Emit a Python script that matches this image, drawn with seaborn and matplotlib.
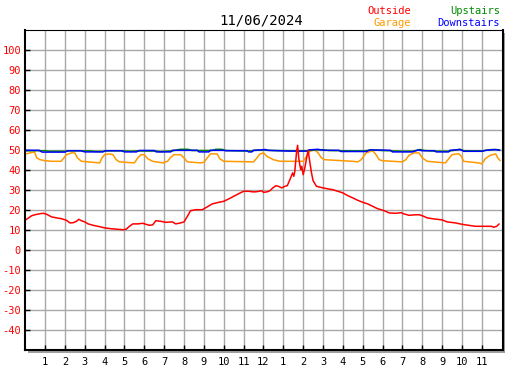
import numpy as np
import pandas as pd
import matplotlib
matplotlib.use("Agg")
import matplotlib.pyplot as plt
import seaborn as sns
from matplotlib.patches import Rectangle

# ---------------- data (hours since midnight, temperature) ----------------
outside_h = [0.03, 0.17, 0.33, 0.5, 0.75, 0.92, 1.08, 1.33, 1.58, 1.83, 2.08, 2.25, 2.42, 2.58,
             2.7, 2.83, 3.0, 3.17, 3.42, 3.75, 4.0, 4.33, 4.67, 4.92, 5.08, 5.25, 5.42, 5.67,
             5.92, 6.25, 6.42, 6.58, 6.83, 7.08, 7.42, 7.58, 7.83, 8.0, 8.17, 8.33, 8.58, 8.92,
             9.17, 9.42, 9.75, 10.0, 10.25, 10.5, 10.75, 11.0, 11.25, 11.5, 11.67, 11.92, 12.0,
             12.17, 12.33, 12.47, 12.63, 12.75, 12.92, 13.08, 13.2, 13.33, 13.47, 13.53, 13.58,
             13.67, 13.72, 13.78, 13.83, 13.88, 13.93, 14.0, 14.08, 14.17, 14.25, 14.33, 14.42,
             14.5, 14.67, 15.0, 15.25, 15.5, 15.75, 16.0, 16.25, 16.5, 16.75, 17.0, 17.25, 17.5,
             17.75, 17.92, 18.08, 18.33, 18.67, 18.92, 19.08, 19.33, 19.58, 19.83, 20.0, 20.25,
             20.58, 21.0, 21.25, 21.67, 22.0, 22.33, 22.67, 23.17, 23.5, 23.58, 23.75, 23.87]
outside_v = [15.3, 16.2, 17.3, 17.8, 18.3, 18.5, 18.0, 16.7, 16.2, 15.8, 15.0, 13.7, 13.8, 14.5,
             15.5, 14.8, 14.2, 13.2, 12.5, 11.8, 11.2, 10.8, 10.5, 10.3, 10.5, 12.0, 13.2, 13.2,
             13.5, 12.5, 12.7, 14.8, 14.5, 14.0, 14.2, 13.2, 13.7, 14.2, 17.0, 19.8, 20.3, 20.3,
             21.7, 23.2, 24.0, 24.5, 25.7, 27.0, 28.3, 29.5, 29.5, 29.2, 29.3, 29.8, 29.0,
             29.2, 29.8, 31.2, 32.3, 32.0, 31.2, 32.0, 32.3, 35.3, 38.7, 37.0, 39.5,
             49.5, 52.5, 46.0, 42.8, 40.3, 42.0, 37.8, 41.0, 46.0, 50.0, 44.5, 38.7,
             34.8, 32.0, 31.2, 30.7, 30.3, 29.5, 28.7, 27.3, 26.2, 25.0, 24.0, 23.2, 22.0,
             20.8, 20.3, 19.8, 18.7, 18.5, 18.8, 18.2, 17.5, 17.7, 17.8, 17.3, 16.2,
             15.7, 15.2, 14.2, 13.7, 13.0, 12.5, 12.0, 12.0, 12.0, 11.5, 12.0, 13.2]

garage_h = [0.03, 0.25, 0.47, 0.58, 0.75, 1.0, 1.33, 1.8, 1.92, 2.08, 2.33, 2.5, 2.63, 2.83,
            3.75, 3.87, 4.0, 4.25, 4.42, 4.58, 4.75, 5.5, 5.67, 5.83, 6.0, 6.17, 6.42, 6.92,
            7.17, 7.33, 7.5, 7.83, 8.0, 8.17, 8.83, 9.0, 9.17, 9.33, 9.67, 9.8, 10.0, 11.5,
            11.67, 11.83, 12.0, 12.17, 12.5, 12.83, 14.0, 14.17, 14.33, 14.58, 14.75, 14.92,
            15.08, 16.5, 16.75, 16.92, 17.17, 17.5, 17.67, 17.83, 18.0, 18.5, 19.0, 19.17,
            19.33, 19.58, 19.83, 20.0, 20.25, 21.17, 21.33, 21.5, 21.83, 21.97, 22.08, 22.83,
            23.0, 23.17, 23.42, 23.7, 23.8, 23.92]
garage_v = [48.2, 48.7, 49.2, 46.2, 45.3, 44.8, 44.5, 44.5, 45.8, 47.8, 48.7, 48.7, 46.2, 44.5,
            43.7, 46.2, 47.8, 48.2, 47.8, 45.3, 44.2, 43.7, 46.2, 47.8, 47.8, 45.8, 44.5, 43.7,
            44.5, 46.5, 47.8, 47.8, 46.2, 44.2, 43.7, 44.0, 46.2, 48.2, 48.2, 45.8, 44.5, 44.2,
            46.2, 48.2, 48.7, 47.0, 45.3, 44.5, 44.5, 47.0, 49.5, 50.3, 48.7, 46.2,
            45.3, 44.5, 44.2, 45.3, 48.7, 49.8, 47.8, 45.3, 44.8, 44.5, 44.2, 45.3,
            47.5, 48.7, 48.7, 46.2, 44.5, 43.7, 45.8, 47.8, 48.3, 47.0, 44.5, 43.7,
            43.2, 45.8, 47.5, 48.2, 46.2, 44.8]

upstairs_h = [0.0, 1.0, 1.2, 2.0, 2.2, 3.3, 3.5, 3.9, 4.1, 5.0, 5.3, 5.7, 6.6, 6.8, 7.4, 7.8,
              8.2, 8.4, 9.4, 9.6, 9.9, 10.1, 11.3, 11.5, 12.0, 12.4, 13.3, 14.2, 14.6, 15.0,
              15.3, 16.5, 17.0, 17.5, 18.0, 19.0, 19.5, 19.9, 20.1, 20.8, 21.3, 21.9, 22.1,
              23.0, 23.5, 23.9]
upstairs_v = [49.8, 49.8, 49.5, 49.5, 49.7, 49.7, 49.4, 49.4, 49.7, 49.7, 49.5, 49.7, 49.6, 49.3,
              49.7, 50.5, 50.5, 49.9, 49.9, 50.5, 50.5, 49.9, 49.6, 49.9, 50.2, 49.9, 49.8,
              49.8, 50.2, 50.3, 49.9, 49.7, 49.7, 50.2, 49.9, 49.5, 49.5, 50.4, 49.9, 49.5,
              49.5, 50.5, 49.8, 49.7, 50.4, 50.2]

downstairs_h = [0.0, 0.7, 0.85, 2.0, 2.15, 2.8, 3.0, 3.9, 4.05, 4.85, 5.0, 5.6, 5.75, 6.5, 6.6,
                7.33, 7.42, 8.67, 8.75, 9.25, 9.33, 10.0, 10.1, 11.17, 11.25, 11.42, 11.5, 11.9,
                12.1, 12.2, 13.3, 14.2, 14.3, 14.75, 14.9, 15.1, 15.8, 15.9, 17.2, 17.35, 17.9,
                18.4, 18.5, 19.5, 19.8, 20.0, 20.6, 20.7, 21.33, 21.4, 21.9, 22.0, 22.08, 23.0,
                23.2, 23.7, 23.9]
downstairs_v = [50.0, 50.0, 49.1, 49.1, 49.8, 49.8, 49.2, 49.2, 49.8, 49.8, 49.2, 49.2, 49.9,
                49.9, 49.2, 49.2, 50.0, 50.0, 49.2, 49.2, 50.0, 50.0, 49.8, 49.8, 49.2, 49.2,
                50.0, 50.2, 50.4, 50.0, 49.6, 49.6, 50.2, 50.5, 50.2, 50.0, 50.0, 49.4, 49.4,
                50.2, 50.1, 50.0, 49.2, 49.2, 50.2, 49.8, 49.8, 49.2, 49.2, 50.0, 50.4, 50.0,
                49.5, 49.5, 50.0, 50.4, 50.0]

hour_ticks = list(range(1, 24))
hour_labels = ["1", "2", "3", "4", "5", "6", "7", "8", "9", "10", "11", "12",
               "1", "2", "3", "4", "5", "6", "7", "8", "9", "10", "11"]
temp_ticks = list(range(-40, 101, 10))
title_text = "11/06/2024"

# ---------------- figure ----------------
sns.set_style("white")
plt.rcParams['font.family'] = ['DejaVu Sans Mono', 'DejaVu Sans']

FW, FH = 527, 370
fig = plt.figure(figsize=(FW / 100, FH / 100), dpi=100)
fig.patch.set_facecolor('white')
L, B = 25.2 / FW, 1 - 350.3 / FH
W, H = (502.5 - 25.2) / FW, 320 / FH

shadow = Rectangle((L + 2.5 / FW, B - 2.5 / FH), W, H, transform=fig.transFigure,
                   facecolor='#a0a0a0', edgecolor='none', zorder=-1)
fig.patches.append(shadow)

ax = fig.add_axes([L, B, W, H])
ax.set_facecolor('white')

series = [
    (garage_h, garage_v, '#ff9900'),
    (upstairs_h, upstairs_v, '#008c00'),
    (downstairs_h, downstairs_v, '#0000ff'),
    (outside_h, outside_v, '#ff0000'),
]
for hs, vs, col in series:
    df = pd.DataFrame({'hour': hs, 'temp': vs})
    sns.lineplot(data=df, x='hour', y='temp', color=col, linewidth=1.1,
                 estimator=None, sort=False, ax=ax)

ax.set_xlim(0, 24.04)
ax.set_ylim(-50, 110)
ax.set_xticks(hour_ticks)
ax.set_xticklabels(hour_labels)
ax.set_yticks(temp_ticks)
ax.set_yticklabels([str(t) for t in temp_ticks])
ax.set_xlabel('')
ax.set_ylabel('')
ax.grid(True, color='#a8a8a8', linewidth=1.0)
ax.set_axisbelow(True)

for side in ['left', 'bottom', 'right']:
    ax.spines[side].set_color('black')
    ax.spines[side].set_linewidth(1.5)
ax.spines['top'].set_color('black')
ax.spines['top'].set_linewidth(0.8)
for s in ax.spines.values():
    s.set_visible(True)

ax.tick_params(axis='both', direction='in', length=3.5, width=1.0, color='black')
ax.tick_params(axis='y', labelcolor='red', labelsize=7.5, pad=3, left=True)
ax.tick_params(axis='x', labelcolor='black', labelsize=7.5, pad=5, bottom=True)

fig.text(261 / FW, 1 - 20 / FH, title_text, ha='center', va='center', fontsize=10, color='black')
fig.text(411 / FW, 1 - 11 / FH, 'Outside', ha='right', va='center', fontsize=7.5, color='#ff0000')
fig.text(411 / FW, 1 - 23.3 / FH, 'Garage', ha='right', va='center', fontsize=7.5, color='#ff9900')
fig.text(500 / FW, 1 - 11 / FH, 'Upstairs', ha='right', va='center', fontsize=7.5, color='#008c00')
fig.text(500 / FW, 1 - 23.3 / FH, 'Downstairs', ha='right', va='center', fontsize=7.5, color='#0000ff')

fig.savefig('out.png', dpi=100, facecolor='white')
